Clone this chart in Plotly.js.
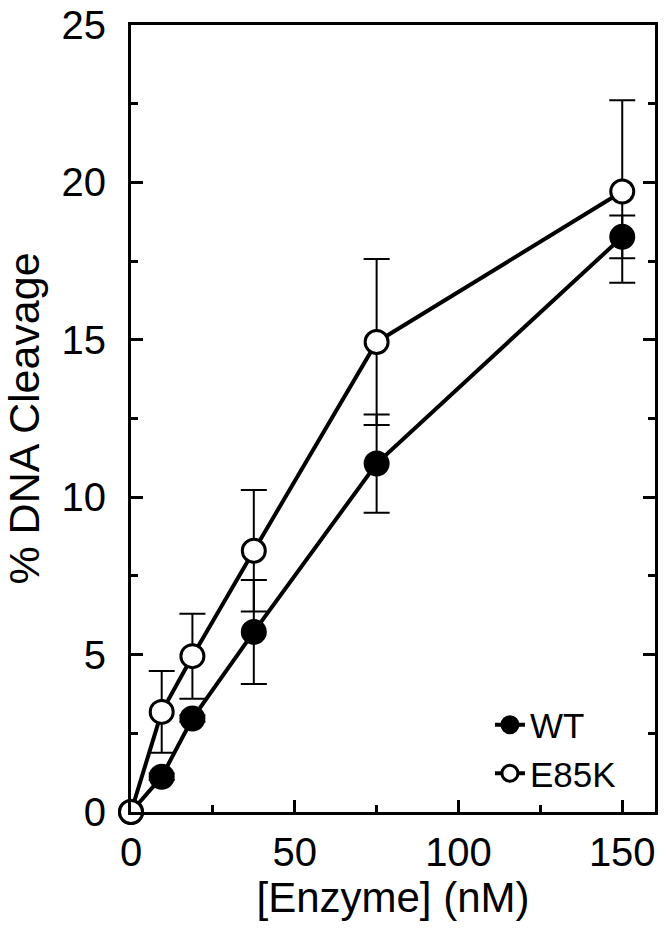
<!DOCTYPE html>
<html><head><meta charset="utf-8">
<script src="https://cdn.plot.ly/plotly-3.0.1.min.js"></script>
<style>body{margin:0;background:#fff}</style></head>
<body><div id="chart" style="width:666px;height:928px"></div>
<script>
const enzyme = [0, 9.375, 18.75, 37.5, 75, 150];
const wtCleavage = [0, 1.12, 2.97, 5.72, 11.07, 18.27];
const wtError = [0, 0.1, 0.1, 1.65, 1.56, 0.68];
const e85kCleavage = [0, 3.18, 4.95, 8.3, 14.93, 19.71];
const e85kError = [0, 1.3, 1.35, 1.93, 2.64, 2.9];
const seriesNames = ['WT', 'E85K'];
const xTitle = '[Enzyme] (nM)';
const yTitle = '% DNA Cleavage';

const font = 'Liberation Sans, Arial, sans-serif';
function makeTrace(name, y, err, fill) {
  return {
    type: 'scatter', mode: 'lines+markers', name: name,
    x: enzyme, y: y, cliponaxis: false,
    line: {color: '#000', width: 4},
    marker: {symbol: 'circle', size: 23, color: fill, line: {color: '#000', width: 3}},
    error_y: {type: 'data', array: err, visible: true, color: '#000', thickness: 2, width: 13}
  };
}
const data = [
  makeTrace(seriesNames[0], wtCleavage, wtError, '#000'),
  makeTrace(seriesNames[1], e85kCleavage, e85kError, '#fff')
];
const axisCommon = {
  showgrid: false, zeroline: false, showline: true, linecolor: '#000', linewidth: 3,
  ticks: 'inside', tickcolor: '#000', tickwidth: 3, ticklen: 12,
  tickfont: {family: font, size: 40, color: '#000'}
};
const layout = {
  width: 666, height: 928,
  margin: {l: 131, r: 11, t: 25, b: 116},
  paper_bgcolor: '#fff', plot_bgcolor: '#fff',
  font: {family: font, color: '#000'},
  showlegend: true,
  legend: {xref: 'paper', yref: 'paper', x: 0.685, y: 0.148, xanchor: 'left', yanchor: 'top',
    font: {family: font, size: 35, color: '#000'}, bgcolor: 'rgba(0,0,0,0)', tracegroupgap: 0, itemsizing: 'trace'},
  xaxis: Object.assign({}, axisCommon, {
    range: [0, 160], tick0: 0, dtick: 50, mirror: true,
    minor: {dtick: 25, ticks: 'inside', ticklen: 7, tickwidth: 3, tickcolor: '#000'},
    ticklabelstandoff: 3,
    title: {text: xTitle, font: {family: font, size: 42, color: '#000'}, standoff: 2}
  }),
  yaxis: Object.assign({}, axisCommon, {
    range: [0, 25], tick0: 0, dtick: 5, mirror: 'ticks',
    minor: {dtick: 2.5, ticks: 'inside', ticklen: 7, tickwidth: 3, tickcolor: '#000'},
    ticklabelstandoff: 14,
    title: {text: yTitle, font: {family: font, size: 43, color: '#000'}, standoff: 14}
  })
};
Plotly.newPlot('chart', data, layout, {staticPlot: true, displayModeBar: false});
</script></body></html>
